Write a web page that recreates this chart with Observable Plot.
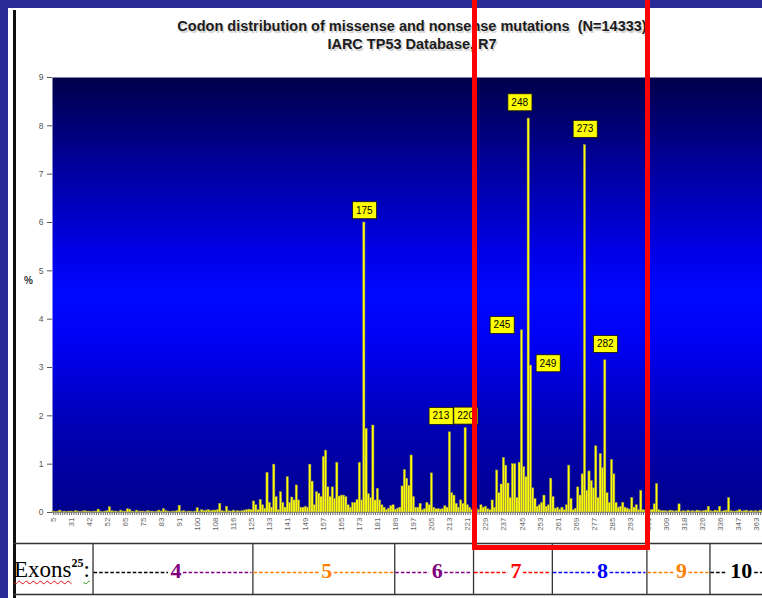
<!DOCTYPE html>
<html>
<head>
<meta charset="utf-8">
<script src="https://cdn.jsdelivr.net/npm/d3@7"></script>
<script src="https://cdn.jsdelivr.net/npm/@observablehq/plot@0.6"></script>
<style>
  html, body { margin: 0; padding: 0; overflow: hidden; }
  body { width: 762px; height: 598px; position: relative; background: #2a2a98; font-family: "Liberation Sans", Arial, sans-serif; }
  #panel { position: absolute; left: 8px; top: 8px; width: 754px; height: 590px; background: #fff; }
  #panel-rule { position: absolute; left: 13px; top: 10px; width: 3px; height: 588px; background: #111; }
  #title { position: absolute; left: 62px; top: 17px; width: 700px; text-align: center; font-weight: bold; font-size: 14.5px; line-height: 18px; color: #1c1c1c; text-shadow: 1.5px 2px 1px #cdcdcd; }
  #chart { position: absolute; left: 0; top: 60px; width: 762px; }
  #exon-row { position: absolute; left: 0; top: 540px; width: 762px; }
  #ylabel { position: absolute; left: 24px; top: 275px; font-size: 10px; font-weight: bold; color: #333; }
  #exon-label { position: absolute; left: 14px; top: 558px; font-family: "Liberation Serif", "Times New Roman", serif; font-size: 23px; line-height: 23px; color: #000; white-space: nowrap; }
  #exon-label .word { text-decoration: underline wavy #e01010; text-decoration-thickness: 1px; text-underline-offset: 3px; }
  #exon-label .colon { text-decoration: underline wavy #20a020; text-decoration-thickness: 1px; text-underline-offset: 3px; padding-right: 6px; }
  #exon-label sup { font-size: 12px; font-weight: bold; vertical-align: 10px; line-height: 0; }
  #highlight { position: absolute; top: -10px; height: 560px; box-sizing: border-box; border: 5px solid #ff0000; }
</style>
</head>
<body>
<div id="panel"></div>
<div id="panel-rule"></div>
<div id="title">Codon distribution of missense and nonsense mutations&nbsp; (N=14333)<br>IARC TP53 Database, R7</div>
<div id="chart"></div>
<div id="ylabel">%</div>
<div id="exon-row"></div>
<div id="exon-label"><span class="word">Exons</span><sup>25</sup><span class="colon">:</span></div>
<div id="highlight"></div>
<script>
// Codons with at least one recorded mutation (x categories), in order.
const codons = [
  5, 8, 11, 15, 19, 22, 25, 28,
  31, 32, 33, 34, 35, 36, 38, 40,
  42, 43, 44, 45, 47, 48, 49, 51,
  52, 53, 55, 56, 58, 59, 61, 63,
  65, 66, 67, 68, 69, 70, 72, 73,
  75, 76, 77, 78, 79, 80, 81, 82,
  83, 84, 85, 86, 87, 88, 89, 90,
  91, 92, 93, 94, 95, 97, 98, 99,
  100, 101, 102, 103, 104, 105, 106, 107,
  108, 109, 110, 111, 112, 113, 114, 115,
  116, 117, 118, 120, 121, 122, 123, 124,
  125, 126, 127, 128, 129, 130, 131, 132,
  133, 134, 135, 136, 137, 138, 139, 140,
  141, 142, 143, 144, 145, 146, 147, 148,
  149, 150, 151, 152, 153, 154, 155, 156,
  157, 158, 159, 160, 161, 162, 163, 164,
  165, 166, 167, 168, 169, 170, 171, 172,
  173, 174, 175, 176, 177, 178, 179, 180,
  181, 182, 183, 184, 185, 186, 187, 188,
  189, 190, 191, 192, 193, 194, 195, 196,
  197, 198, 199, 200, 201, 202, 203, 204,
  205, 206, 207, 208, 209, 210, 211, 212,
  213, 214, 215, 216, 217, 218, 219, 220,
  221, 222, 223, 224, 225, 226, 227, 228,
  229, 230, 231, 232, 233, 234, 235, 236,
  237, 238, 239, 240, 241, 242, 243, 244,
  245, 246, 247, 248, 249, 250, 251, 252,
  253, 254, 255, 256, 257, 258, 259, 260,
  261, 262, 263, 264, 265, 266, 267, 268,
  269, 270, 271, 272, 273, 274, 275, 276,
  277, 278, 279, 280, 281, 282, 283, 284,
  285, 286, 287, 288, 289, 290, 291, 292,
  293, 294, 295, 296, 297, 298, 299, 300,
  301, 302, 303, 304, 305, 306, 307, 308,
  309, 310, 311, 312, 314, 315, 316, 317,
  318, 319, 320, 321, 322, 323, 324, 325,
  326, 327, 329, 330, 331, 332, 333, 335,
  336, 337, 338, 339, 341, 342, 343, 344,
  347, 348, 349, 351, 354, 356, 358, 360,
  363, 365, 366, 367, 370, 372, 374, 376, 379, 381, 384, 387, 390, 393
];

// Share of all missense and nonsense mutations at each codon (%).
const pct = [
  0.02, 0.01, 0.02, 0.04, 0.01, 0.02, 0.01, 0.02,
  0.02, 0.01, 0.03, 0.02, 0.01, 0.02, 0.03, 0.02,
  0.02, 0.01, 0.02, 0.02, 0.06, 0.02, 0.01, 0.02,
  0.03, 0.11, 0.03, 0.02, 0.02, 0.01, 0.04, 0.02,
  0.02, 0.07, 0.06, 0.02, 0.01, 0.04, 0.02, 0.02,
  0.02, 0.01, 0.03, 0.02, 0.02, 0.01, 0.02, 0.04,
  0.02, 0.07, 0.03, 0.02, 0.01, 0.02, 0.02, 0.03,
  0.14, 0.02, 0.03, 0.01, 0.02, 0.02, 0.01, 0.02,
  0.09, 0.02, 0.05, 0.03, 0.04, 0.05, 0.03, 0.04,
  0.04, 0.05, 0.18, 0.03, 0.02, 0.12, 0.03, 0.02,
  0.04, 0.02, 0.03, 0.02, 0.03, 0.04, 0.05, 0.06,
  0.05, 0.23, 0.15, 0.05, 0.26, 0.15, 0.08, 0.82,
  0.20, 0.10, 0.99, 0.32, 0.05, 0.42, 0.20, 0.10,
  0.73, 0.20, 0.31, 0.25, 0.56, 0.25, 0.10, 0.10,
  0.12, 0.10, 0.99, 0.64, 0.15, 0.42, 0.39, 0.32,
  1.15, 1.28, 0.52, 0.32, 0.52, 0.28, 1.03, 0.33,
  0.35, 0.35, 0.32, 0.15, 0.10, 0.20, 0.20, 0.26,
  1.03, 0.25, 6.00, 1.73, 0.38, 0.30, 1.80, 0.25,
  0.49, 0.25, 0.15, 0.10, 0.05, 0.08, 0.13, 0.15,
  0.06, 0.08, 0.10, 0.54, 0.88, 0.70, 0.55, 1.18,
  0.32, 0.10, 0.10, 0.18, 0.05, 0.07, 0.20, 0.15,
  0.81, 0.10, 0.07, 0.07, 0.06, 0.07, 0.13, 0.10,
  1.66, 0.40, 0.35, 0.18, 0.10, 0.25, 0.18, 1.75,
  0.15, 0.10, 0.05, 0.05, 0.07, 0.05, 0.15, 0.10,
  0.12, 0.07, 0.05, 0.25, 0.10, 0.87, 0.40, 0.58,
  1.13, 0.97, 0.60, 0.30, 1.00, 1.00, 0.30, 1.03,
  3.77, 0.94, 0.73, 8.15, 3.04, 0.50, 0.28, 0.12,
  0.15, 0.20, 0.35, 0.12, 0.15, 0.70, 0.32, 0.08,
  0.10, 0.06, 0.10, 0.05, 0.15, 0.97, 0.28, 0.05,
  0.08, 0.52, 0.35, 0.79, 7.60, 0.45, 0.85, 0.65,
  0.50, 1.37, 0.30, 1.21, 0.92, 3.15, 0.40, 0.20,
  1.09, 0.79, 0.20, 0.10, 0.12, 0.20, 0.10, 0.08,
  0.06, 0.30, 0.10, 0.15, 0.05, 0.45, 0.05, 0.04,
  0.05, 0.05, 0.05, 0.17, 0.59, 0.05, 0.03, 0.03,
  0.03, 0.02, 0.04, 0.03, 0.02, 0.03, 0.17, 0.02,
  0.03, 0.02, 0.04, 0.02, 0.03, 0.02, 0.04, 0.03,
  0.02, 0.03, 0.04, 0.12, 0.03, 0.02, 0.04, 0.03,
  0.12, 0.02, 0.03, 0.04, 0.30, 0.03, 0.02, 0.02,
  0.03, 0.05, 0.02, 0.03, 0.04, 0.02, 0.03, 0.02,
  0.03, 0.02, 0.04, 0.02, 0.03, 0.02, 0.02, 0.03, 0.02, 0.02, 0.03, 0.02, 0.02, 0.02
];

// Codons printed under the axis (every eighth category).
const tickLabels = [5, 31, 42, 52, 65, 75, 83, 91, 100, 108, 116, 125, 133, 141, 149, 157,
  165, 173, 181, 189, 197, 205, 213, 221, 229, 237, 245, 253, 261, 269, 277, 285,
  293, 301, 309, 318, 326, 336, 347, 363];
const yTicks = [0, 1, 2, 3, 4, 5, 6, 7, 8, 9];

// Hotspot codons tagged with a yellow label, by where the tag sits.
const labelsAboveNear = [175, 220];
const labelsAbove = [273, 282];
const labelsAboveLeft = [213, 248];
const labelsLeft = [245];
const labelsRight = [249];

// Exon row under the axis: exon number, colour, first codon of its column.
const exonNames = ["4", "5", "6", "7", "8", "9", "10"];
const exonColors = ["#800080", "#ff8000", "#800080", "#ff0000", "#0000ff", "#ff8000", "#000000"];
const exonFirstCodon = [44, 126, 189, 224, 259, 301, 331];

// Codon span boxed in red (exons 7-8).
const highlightCodons = [224, 301];

const data = codons.map((codon, i) => ({codon, pct: pct[i]}));
const byCodon = new Map(data.map(d => [d.codon, d]));
const pick = list => list.map(c => byCodon.get(c));
const labelSet = new Set(tickLabels);

// The codon axis runs on past the right edge of the page.
const W = 762;
const axisEnd = 786;
const labelStyle = {
  x: "codon", y: "pct", text: d => String(d.codon),
  fontSize: 10, fill: "#000", fontFamily: "Liberation Sans, Arial, sans-serif",
  ariaDescription: "hotspot label"
};

// ticks only for the categories that fall on the page
function xInView(c) {
  return codons.indexOf(c) < Math.floor((W - 52) / ((axisEnd - 52) / codons.length));
}

const chart = Plot.plot({
  width: W, height: 482,
  marginTop: 17, marginBottom: 30, marginLeft: 52, marginRight: 0,
  style: {background: "transparent", maxWidth: "none", overflow: "visible",
          fontFamily: "Liberation Sans, Arial, sans-serif"},
  x: {type: "band", domain: codons, padding: 0, range: [52, axisEnd]},
  y: {domain: [0, 9]},
  marks: [
    Plot.frame({fill: "url(#plot-bg)"}),
    Plot.barY(data, {x: "codon", y: "pct", fill: "#ffff00", stroke: "#88885a", strokeWidth: 0.5}),
    Plot.ruleY([0], {stroke: "#9a9a9a"}),
    Plot.axisY({ticks: yTicks, tickSize: 5, tickPadding: 4, fontSize: 8.5, color: "#555", label: null}),
    Plot.axisX({ticks: codons.filter(xInView), tickFormat: d => labelSet.has(d) ? String(d) : "",
                tickSize: 3, tickPadding: 2, tickRotate: -90, fontSize: 8, color: "#666", label: null}),
    Plot.text(pick(labelsAboveNear), {...labelStyle, dy: -12}),
    Plot.text(pick(labelsAbove), {...labelStyle, dy: -16}),
    Plot.text(pick(labelsAboveLeft), {...labelStyle, dx: -9, dy: -16}),
    Plot.text(pick(labelsLeft), {...labelStyle, dx: -20, dy: -5}),
    Plot.text(pick(labelsRight), {...labelStyle, dx: 17, dy: -2})
  ]
});
document.getElementById("chart").appendChild(chart);

// Vertical blue gradient behind the bars.
const grad = d3.select(chart).insert("defs", ":first-child")
  .append("linearGradient").attr("id", "plot-bg")
  .attr("x1", 0).attr("y1", 0).attr("x2", 0).attr("y2", 1);
[[0, "#00004a"], [0.2, "#00009a"], [0.4, "#0000e6"], [0.5, "#0008ff"],
 [0.62, "#0000f0"], [0.8, "#0000b4"], [1, "#00008c"]]
  .forEach(([o, c]) => grad.append("stop").attr("offset", o).attr("stop-color", c));

// Yellow boxes behind the hotspot labels.
d3.select(chart).selectAll('g[aria-description="hotspot label"] text').each(function () {
  const b = this.getBBox();
  const cy = b.y + b.height / 2;
  d3.select(this.parentNode).insert("rect", () => this)
    .attr("x", b.x - 3.5).attr("y", cy - 8.5)
    .attr("width", b.width + 7).attr("height", 17)
    .attr("transform", this.getAttribute("transform"))
    .attr("fill", "#ffff00").attr("stroke", "#111").attr("stroke-width", 0.8);
});

// Exon row, laid out on the chart's codon scale.
const xs = chart.scale("x");
const bw = xs.bandwidth;
const tableRight = 766;
const cells = exonNames.map((name, i) => {
  const x1 = xs.apply(exonFirstCodon[i]);
  const x2 = i + 1 < exonNames.length ? xs.apply(exonFirstCodon[i + 1]) : tableRight;
  return {name, color: exonColors[i], x1, x2, mid: (x1 + x2) / 2 + 3, half: name.length * 6 + 1.5};
});
const dashes = cells.flatMap((c, i) => [
  {a: c.x1 + 1, b: c.mid - c.half, color: i === 0 ? "#000000" : c.color},
  {a: c.mid + c.half, b: Math.min(c.x2 - 1, W), color: c.color}
]);

const exonRow = Plot.plot({
  width: W, height: 58, margin: 0,
  style: {background: "transparent", maxWidth: "none", overflow: "visible"},
  x: {type: "identity"}, y: {type: "identity"},
  marks: [
    Plot.ruleY([3, 54], {x1: 13, x2: W, stroke: "#333", strokeWidth: 1.3}),
    Plot.ruleX(cells, {x: "x1", y1: 3, y2: 54, stroke: "#333", strokeWidth: 1.3}),
    Plot.ruleY(dashes, {x1: "a", x2: "b", y: 32, stroke: "color", strokeWidth: 1.4, strokeDasharray: "3.6,2"}),
    Plot.text(cells, {x: "mid", y: 30, text: "name", fill: "color", fontSize: 22, fontWeight: "bold",
                      fontFamily: "Liberation Serif, Times New Roman, serif"})
  ]
});
document.getElementById("exon-row").appendChild(exonRow);

// Red box around exons 7-8, positioned from the same scale.
const hx1 = xs.apply(highlightCodons[0]) + bw / 2;
const hx2 = xs.apply(highlightCodons[1]) + bw / 2;
const hl = document.getElementById("highlight");
hl.style.left = (hx1 - 2.5) + "px";
hl.style.width = (hx2 - hx1 + 5) + "px";
</script>
</body>
</html>
